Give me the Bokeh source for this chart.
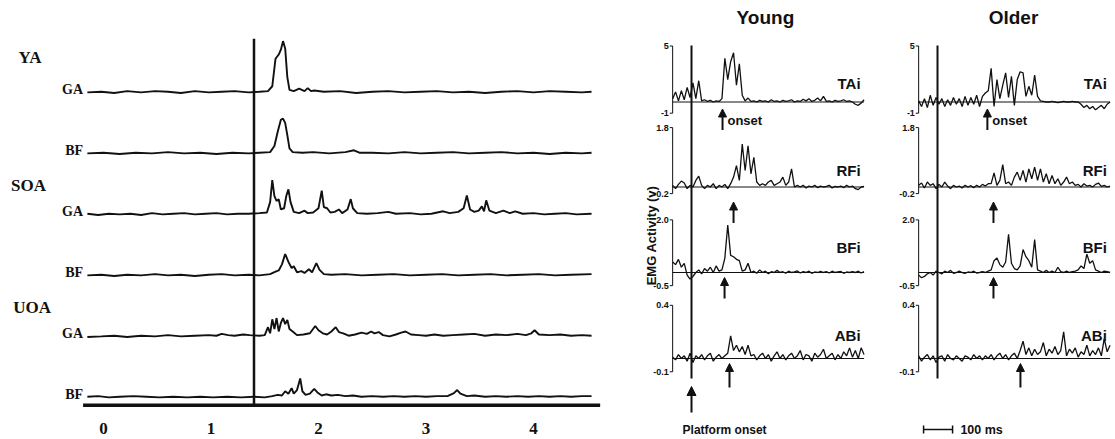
import math
from bokeh.plotting import figure
from bokeh.layouts import row
from bokeh.models import Range1d, Arrow, NormalHead
from bokeh.core.properties import value
from bokeh.embed import file_html
from bokeh.resources import INLINE

INK = "#111111"

# ---------------- LEFT PANEL DATA (time in axis units, amplitude in trace units) -------------
X_TICKS = [0, 1, 2, 3, 4]
X_TICK_LABELS = ["0", "1", "2", "3", "4"]
GROUPS = ["YA", "SOA", "UOA"]
MUSCLES_LEFT = ["GA", "BF", "GA", "BF", "GA", "BF"]
PLATFORM_LEFT = 1.4

YA_GA = [(-0.15,0),(-0.02,0.01),(0.1,-0.01),(0.22,0.02),(0.35,0),(0.48,0.02),(0.6,0.01),(0.72,-0.01),
         (0.85,0.02),(0.98,0),(1.1,0.01),(1.22,0.02),(1.35,0),(1.45,0.01),(1.53,0.02),(1.57,0.1),(1.6,0.55),
         (1.63,0.62),(1.65,0.7),(1.67,0.84),(1.69,0.72),(1.71,0.25),(1.73,0.04),(1.77,0.02),(1.82,0.06),
         (1.87,0.02),(1.9,0.07),(1.93,0.02),(1.96,0.03),(2.05,0.01),(2.2,0.02),(2.35,-0.01),(2.5,0.01),
         (2.65,0.02),(2.8,0),(2.95,0.01),(3.1,0.02),(3.25,0),(3.4,0.01),(3.55,-0.01),(3.7,0.01),(3.85,0.02),
         (4.0,0),(4.15,0.02),(4.3,0.01),(4.45,0),(4.54,0.01)]
YA_BF = [(-0.15,0),(0,0.01),(0.15,-0.01),(0.3,0.01),(0.45,0),(0.6,0.02),(0.75,0),(0.9,0.01),(1.05,-0.01),
         (1.2,0.01),(1.35,0),(1.45,0.01),(1.55,0.02),(1.59,0.12),(1.62,0.35),(1.65,0.55),(1.67,0.57),
         (1.69,0.5),(1.71,0.3),(1.73,0.08),(1.76,0.02),(1.85,0.01),(1.95,0.02),(2.1,0),(2.25,0.02),
         (2.33,0.05),(2.38,0.01),(2.5,0.01),(2.65,0),(2.8,0.02),(2.95,0),(3.1,0.01),(3.25,0.02),(3.4,0),
         (3.55,0.01),(3.7,0.02),(3.85,0),(4.0,0.01),(4.15,-0.01),(4.3,0.01),(4.45,0),(4.54,0.01)]
SOA_GA = [(-0.15,0.01),(-0.05,-0.01),(0.05,0.01),(0.15,0),(0.25,0.01),(0.35,-0.01),(0.45,0.02),(0.55,0),
          (0.65,0.01),(0.75,0.02),(0.85,0),(0.95,0.01),(1.05,0.02),(1.15,0),(1.25,0.01),(1.35,0.01),
          (1.45,0.02),(1.52,0.03),(1.55,0.2),(1.57,0.56),(1.59,0.3),(1.61,0.22),(1.63,0.25),(1.65,0.08),
          (1.68,0.1),(1.7,0.3),(1.72,0.41),(1.74,0.2),(1.77,0.04),(1.82,0.02),(1.87,0.06),(1.9,0.02),
          (1.95,0.03),(2.0,0.1),(2.03,0.39),(2.05,0.12),(2.08,0.1),(2.11,0.03),(2.15,0.04),(2.19,0.08),
          (2.22,0.02),(2.27,0.08),(2.3,0.25),(2.32,0.1),(2.36,0.02),(2.45,0.01),(2.55,0.02),(2.65,0.04),
          (2.72,0.01),(2.85,0.02),(2.95,0),(3.05,0.01),(3.16,0.05),(3.22,0.02),(3.3,0.04),(3.35,0.1),
          (3.38,0.31),(3.41,0.08),(3.45,0.04),(3.49,0.06),(3.52,0.13),(3.54,0.05),(3.56,0.23),(3.59,0.06),
          (3.65,0.02),(3.72,0.06),(3.78,0.02),(3.83,0.05),(3.9,0.01),(4.0,0.02),(4.1,0),(4.2,0.01),
          (4.3,0.02),(4.4,0),(4.54,0.01)]
SOA_BF = [(-0.15,0),(-0.02,0.01),(0.1,-0.01),(0.22,0.01),(0.35,0),(0.48,0.02),(0.6,0),(0.72,0.01),
          (0.85,-0.01),(0.98,0.01),(1.1,0.02),(1.22,0),(1.35,0.01),(1.45,0),(1.55,0.02),(1.6,0.06),
          (1.63,0.08),(1.66,0.18),(1.69,0.35),(1.72,0.22),(1.75,0.12),(1.77,0.15),(1.8,0.05),(1.84,0.07),
          (1.87,0.04),(1.91,0.1),(1.94,0.05),(1.98,0.2),(2.01,0.09),(2.05,0.02),(2.12,0.01),(2.25,0.02),
          (2.4,0),(2.55,0.01),(2.7,0.02),(2.85,0),(3.0,0.01),(3.15,0.02),(3.3,0),(3.45,0.01),(3.6,0.02),
          (3.75,0),(3.9,0.01),(4.05,0.02),(4.2,0),(4.35,0.01),(4.54,0.02)]
UOA_GA = [(-0.15,-0.01),(-0.02,0),(0.1,0.01),(0.22,-0.01),(0.35,0.01),(0.48,0),(0.6,0.02),(0.72,0),
          (0.85,0.01),(0.98,0.02),(1.05,0.01),(1.1,0.04),(1.16,0.02),(1.22,0.01),(1.3,0.03),(1.36,0.02),
          (1.45,0.01),(1.5,0.02),(1.53,0.15),(1.55,0.05),(1.57,0.28),(1.59,0.12),(1.61,0.3),(1.63,0.08),
          (1.65,0.22),(1.67,0.3),(1.69,0.2),(1.71,0.27),(1.73,0.12),(1.76,0.08),(1.8,0.02),(1.86,0.03),
          (1.92,0.05),(1.97,0.17),(2.0,0.1),(2.04,0.05),(2.08,0.03),(2.12,0.08),(2.16,0.15),(2.19,0.07),
          (2.23,0.05),(2.28,0.01),(2.34,0.03),(2.4,0.06),(2.45,0.04),(2.49,0.08),(2.52,0.05),(2.56,0.07),
          (2.6,0.02),(2.66,0),(2.72,0.03),(2.77,0.06),(2.81,0.08),(2.86,0.03),(2.93,0.02),(3.0,0.01),
          (3.08,0.03),(3.16,0.01),(3.25,0.02),(3.35,0.03),(3.45,0.04),(3.55,0.01),(3.65,0.03),(3.75,0.02),
          (3.85,0.04),(3.93,0.02),(3.98,0.05),(4.01,0.1),(4.05,0.03),(4.15,0.02),(4.25,0.03),(4.35,0.01),
          (4.45,0.02),(4.54,0.01)]
UOA_BF = [(-0.15,0.01),(-0.05,0.02),(0.05,0),(0.15,0.01),(0.28,0.02),(0.4,0.01),(0.52,0),(0.65,0.01),
          (0.78,0),(0.9,0.01),(1.02,0),(1.15,0.01),(1.28,0),(1.4,0.01),(1.5,0),(1.57,0.02),(1.62,0.04),
          (1.66,0.03),(1.69,0.1),(1.72,0.06),(1.75,0.15),(1.77,0.06),(1.8,0.12),(1.83,0.31),(1.85,0.1),
          (1.88,0.04),(1.92,0.06),(1.96,0.14),(1.99,0.08),(2.03,0.03),(2.07,0.05),(2.12,0.03),(2.18,0.04),
          (2.25,0.02),(2.32,0.03),(2.4,0.01),(2.5,0.02),(2.6,0.01),(2.7,0.02),(2.8,0.01),(2.9,0.02),
          (3.0,0.01),(3.1,0.02),(3.2,0.02),(3.26,0.07),(3.29,0.12),(3.32,0.06),(3.38,0.02),(3.45,0.03),
          (3.55,0.01),(3.65,0.02),(3.75,0.01),(3.85,0.02),(3.95,0.01),(4.05,0.02),(4.15,0.01),(4.25,0.02),
          (4.35,0.01),(4.45,0.02),(4.54,0.02)]

# ---------------- RIGHT PANEL DATA (ms, volts), sampled every 10 ms from -65 ms -------------
MUSCLES_RIGHT = ["TAi", "RFi", "BFi", "ABi"]
TICK_TOP = [5, 1.8, 2.0, 0.4]
TICK_BOTTOM = [-1, -0.2, -0.5, -0.1]
TICK_TOP_LABELS = ["5", "1.8", "2.0", "0.4"]
TICK_BOTTOM_LABELS = ["-1", "-0.2", "-0.5", "-0.1"]
YOUNG_ONSET_MS = [107, 145, 114, 131]
OLDER_ONSET_MS = [172, 193, 193, 286]
SCALE_BAR_MS = 100

YOUNG_TAI = [0.3,0.9,0.1,1.0,0.2,1.3,0.4,1.7,0.3,1.9,0.1,
             0.2,0.05,0.15,0.0,0.1,0.05,
             0.3,3.9,2.0,3.6,4.4,1.5,3.4,0.6,0.1,
             0.35,0.05,0.1,0.0,0.15,0.05,0.1,0.0,0.2,0.05,0.1,0.0,0.15,0.05,0.1,0.2,0.0,0.1,0.05,0.25,
             0.1,0.3,0.05,0.15,0.35,0.1,0.5,0.05,0.1,0.0,0.15,0.05,0.1,0.2,0.05,0.1,0.0,-0.2,-0.3,-0.1,0.2]
YOUNG_RFI = [0.05,-0.05,0.08,0.18,0.12,-0.05,0.05,0.0,0.2,0.33,0.05,
             -0.05,0.05,0.0,0.1,-0.05,0.05,0.0,0.08,-0.05,0.1,
             0.3,0.65,0.2,1.3,0.5,1.25,0.4,0.9,0.15,0.05,0.1,
             0.05,0.15,0.2,0.05,0.1,0.15,0.3,0.05,0.15,0.55,0.0,
             0.05,0.0,0.05,-0.03,0.03,0.0,0.05,-0.02,0.03,0.0,0.02,0.05,-0.03,0.02,0.0,0.03,-0.02,0.05,
             0.0,0.03,-0.05,-0.08,0.0,0.02]
YOUNG_BFI = [0.4,0.3,0.5,0.2,0.35,-0.1,-0.25,
             -0.15,0.0,0.1,-0.05,0.15,0.05,0.2,0.0,0.25,0.05,
             0.1,0.55,1.8,0.65,0.6,0.5,0.45,0.05,
             0.1,0.35,0.0,0.05,-0.03,0.1,0.0,0.05,-0.05,0.03,0.0,0.08,0.0,0.03,-0.03,0.05,0.0,0.02,0.06,
             -0.02,0.03,0.0,0.05,-0.03,0.02,0.0,0.04,0.0,0.03,-0.02,0.05,0.0,0.02,0.04,-0.03,0.02,0.0,
             0.03,0.0,0.05,-0.02,0.03]
YOUNG_ABI = [0.01,-0.01,0.03,0.0,0.02,-0.02,0.04,-0.03,0.02,0.0,0.03,-0.01,0.02,0.04,-0.02,0.01,0.03,0.0,0.02,0.04,
             0.17,0.06,0.1,0.05,0.09,0.03,0.1,0.02,
             0.03,-0.01,0.02,0.04,0.0,0.03,-0.02,0.02,0.05,0.0,0.03,-0.01,0.02,0.04,0.0,0.02,0.06,-0.01,
             0.03,0.02,-0.02,0.04,0.01,0.03,0.07,0.0,0.02,0.04,-0.01,0.03,0.0,0.05,0.02,0.08,0.01,0.06,
             0.0,0.08,0.03]
OLDER_TAI = [0.1,-0.4,0.3,-0.5,0.6,-0.3,0.4,-0.2,0.3,-0.4,0.2,-0.3,0.4,-0.2,0.3,-0.4,0.5,
             -0.3,0.4,-0.2,0.6,-0.4,0.5,0.8,1.0,
             3.0,-0.4,2.0,0.3,1.5,2.6,0.4,2.3,-0.3,2.0,2.7,2.6,0.5,1.4,0.6,2.4,0.5,0.1,
             0.05,0.0,0.0,0.05,0.0,-0.05,0.0,0.05,0.0,0.0,0.05,0.0,0.0,-0.2,-0.5,-0.3,-0.6,-0.4,-0.7,
             -0.5,-0.3,-0.6,-0.2,0.0]
OLDER_RFI = [0.05,0.12,-0.03,0.15,0.05,0.1,-0.05,0.08,0.0,0.15,0.03,-0.05,0.05,0.0,0.03,-0.03,0.05,0.0,0.04,
             -0.02,0.05,0.0,0.08,0.03,0.1,
             0.1,0.43,0.05,0.2,0.68,0.1,0.15,0.05,0.3,0.45,0.2,0.5,0.15,0.55,0.25,0.6,0.2,0.55,0.15,0.4,
             0.1,0.35,0.1,0.25,0.05,0.15,0.3,0.1,
             0.15,0.05,0.08,0.0,0.1,0.03,0.05,0.0,0.08,0.12,0.02,0.05,0.0,0.03]
OLDER_BFI = [-0.1,-0.2,-0.15,-0.05,0.0,-0.1,0.05,0.0,-0.05,0.05,0.0,0.08,-0.03,0.0,0.05,0.0,-0.03,0.02,0.0,
             0.05,-0.02,0.0,0.03,0.0,0.05,
             0.1,0.45,0.55,0.3,0.2,0.4,1.45,0.35,0.15,0.1,0.25,0.87,0.6,0.45,0.2,1.25,
             0.1,0.05,0.0,0.08,0.0,0.05,0.0,0.2,0.03,0.0,0.05,0.0,0.03,0.05,0.1,0.25,0.15,0.7,0.35,0.45,
             0.1,0.05,0.0,0.05,0.03,0.0]
OLDER_ABI = [0.02,-0.02,0.01,0.03,-0.01,0.02,-0.03,0.01,0.02,-0.02,0.03,0.0,-0.01,0.02,0.0,-0.02,0.02,0.01,
             -0.01,0.03,0.0,0.02,
             -0.01,0.02,0.0,0.03,-0.01,0.02,0.04,0.0,0.03,-0.01,0.02,0.04,0.0,0.06,0.13,0.03,0.08,0.02,
             0.07,0.03,0.05,0.12,0.02,0.07,0.04,0.09,0.03,0.06,0.2,0.02,0.07,0.04,0.08,0.01,0.05,0.03,0.1,
             0.02,0.06,0.03,0.08,0.02,0.15,0.05,0.1]
RIGHT_T0, RIGHT_DT = -65, 10

# ---------------- LAYOUT CONSTANTS ----------------
LEFT_W, YOUNG_W, OLDER_W, H = 640, 240, 234, 438


def serif(size):
    return dict(text_font=value("Liberation Serif"), text_font_style="bold",
                text_font_size=size, text_color=INK)


def sans(size):
    return dict(text_font=value("Liberation Sans"), text_font_style="bold",
                text_font_size=size, text_color=INK)


def bare(fig):
    fig.grid.visible = False
    fig.outline_line_color = None
    fig.background_fill_color = "white"
    fig.border_fill_color = "white"


# ================= LEFT FIGURE =================
left = figure(width=LEFT_W, height=H, x_range=Range1d(-0.9581, 4.9953), y_range=Range1d(-0.6746, 6.5057),
              output_backend="svg", toolbar_location=None, x_axis_location=None, y_axis_location=None,
              min_border_left=0, min_border_right=0, min_border_top=0, min_border_bottom=0)
bare(left)

left_traces = [YA_GA, YA_BF, SOA_GA, SOA_BF, UOA_GA, UOA_BF]
for k, tr in enumerate(left_traces):
    base = 5 - k
    xs = [p[0] for p in tr]
    ys = [p[1] + base for p in tr]
    left.line(xs, ys, line_color=INK, line_width=1.9)

left.text(x=[-0.19] * 6, y=[5 - k + 0.05 for k in range(6)], text=MUSCLES_LEFT,
          text_align="right", text_baseline="middle", **serif("14px"))
left.text(x=[-0.79, -0.86, -0.84], y=[5.57, 3.47, 1.47], text=GROUPS,
          text_align="left", text_baseline="middle", **serif("17px"))
# time axis: thick base line and tick labels
left.segment(x0=[-0.19], y0=[-0.13], x1=[4.62], y1=[-0.13], line_color=INK, line_width=3.5)
left.text(x=X_TICKS, y=[-0.51] * len(X_TICKS), text=X_TICK_LABELS,
          text_align="center", text_baseline="middle", **serif("17px"))
left.segment(x0=[PLATFORM_LEFT], y0=[-0.15], x1=[PLATFORM_LEFT], y1=[5.88], line_color=INK, line_width=2.5)


# ================= RIGHT FIGURES =================
ZERO_Y = [329.5, 244.5, 159, 73]        # figure y of 0 V for each muscle
PX_PER_V = [11.2, 33, 26.3, 133]
ARROW_TIP = [-7, -15, -5, -5]
ARROW_TAIL = [-28, -36, -26, -29]
SPINE = -65
TICK_LEN = 10


def right_panel(width, x0, x1, traces, onsets, title, title_x, label_x):
    p = figure(width=width, height=H, x_range=Range1d(x0, x1), y_range=Range1d(-7, 431),
               output_backend="svg", toolbar_location=None, x_axis_location=None, y_axis_location=None,
               min_border_left=0, min_border_right=0, min_border_top=0, min_border_bottom=0)
    bare(p)
    t = [RIGHT_T0 + RIGHT_DT * i for i in range(len(traces[0]))]
    for k, vals in enumerate(traces):
        z, s = ZERO_Y[k], PX_PER_V[k]
        p.segment(x0=[SPINE], y0=[z], x1=[t[-1]], y1=[z], line_color=INK, line_width=1)
        p.line(t, [z + v * s for v in vals], line_color=INK, line_width=1.3)
        yt, yb = z + TICK_TOP[k] * s, z + TICK_BOTTOM[k] * s
        p.segment(x0=[SPINE, SPINE, SPINE], y0=[yb, yt, yb], x1=[SPINE, SPINE - TICK_LEN, SPINE - TICK_LEN],
                  y1=[yt, yt, yb], line_color=INK, line_width=1)
        p.text(x=[SPINE - TICK_LEN - 3] * 2, y=[yt, yb], text=[TICK_TOP_LABELS[k], TICK_BOTTOM_LABELS[k]],
               text_align="right", text_baseline="middle", **sans("9px"))
        p.add_layout(Arrow(end=NormalHead(size=8, fill_color=INK, line_color=INK),
                           x_start=onsets[k], y_start=z + ARROW_TAIL[k], x_end=onsets[k], y_end=z + ARROW_TIP[k],
                           line_color=INK, line_width=2))
    p.text(x=[label_x] * 4, y=[348, 261, 184, 96], text=MUSCLES_RIGHT,
           text_align="right", text_baseline="middle", **sans("15px"))
    p.text(x=[onsets[0] + 17], y=[311], text=["onset"], text_align="left", text_baseline="middle", **sans("13px"))
    p.text(x=[title_x], y=[414], text=[title], text_align="center", text_baseline="middle", **sans("19px"))
    p.segment(x0=[0], y0=[53], x1=[0], y1=[386], line_color=INK, line_width=2)
    return p


young = right_panel(YOUNG_W, (640 - 691) / 0.29, (880 - 691) / 0.29,
                    [YOUNG_TAI, YOUNG_RFI, YOUNG_BFI, YOUNG_ABI], YOUNG_ONSET_MS, "Young", 255, 583)
young.add_layout(Arrow(end=NormalHead(size=9, fill_color=INK, line_color=INK),
                       x_start=0, y_start=19, x_end=0, y_end=45, line_color=INK, line_width=2))
young.text(x=[114], y=[2], text=["Platform onset"], text_align="center", text_baseline="middle", **sans("12px"))
young.text(x=[-138], y=[196], text=["EMG Activity (v)"], angle=math.pi / 2,
           text_align="center", text_baseline="middle", **sans("13px"))

older = right_panel(OLDER_W, (880 - 937) / 0.29, (1114 - 937) / 0.29,
                    [OLDER_TAI, OLDER_RFI, OLDER_BFI, OLDER_ABI], OLDER_ONSET_MS, "Older", 262, 584)
older.segment(x0=[-48, -48, -48 + SCALE_BAR_MS], y0=[2, -2, -2], x1=[-48 + SCALE_BAR_MS, -48, -48 + SCALE_BAR_MS],
              y1=[2, 6, 6], line_color=INK, line_width=1.5)
older.text(x=[79], y=[2], text=["%d ms" % SCALE_BAR_MS], text_align="left", text_baseline="middle", **sans("12.5px"))

layout = row(left, young, older)
open("out.html", "w").write(file_html(layout, INLINE))
